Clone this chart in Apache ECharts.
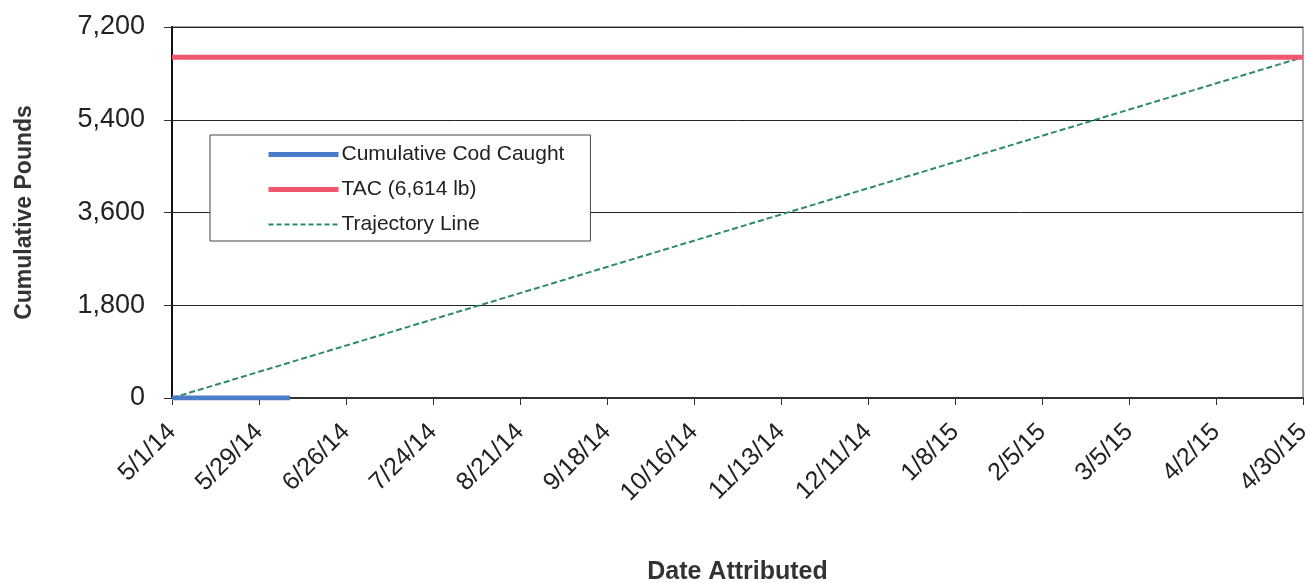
<!DOCTYPE html>
<html>
<head>
<meta charset="utf-8">
<script src="https://cdn.jsdelivr.net/npm/echarts@6/dist/echarts.min.js"></script>
<style>
html,body{margin:0;padding:0;background:#fff;}
#c{width:1312px;height:583px;}
</style>
</head>
<body>
<div id="c"></div>
<script>
// ---- data ----
const startDate = '2014-05-01';
const endDate = '2015-04-30';
const caughtDates = ['2014-05-01', '2014-05-15', '2014-05-29', '2014-06-08'];
const caughtValues = [0, 0, 0, 0];
const tacDates = ['2014-05-01', '2015-04-30'];
const tacValues = [6614, 6614];
const trajectoryDates = ['2014-05-01', '2015-04-30'];
const trajectoryValues = [0, 6614];
const yTicks = [0, 1800, 3600, 5400, 7200];
const seriesNames = ['Cumulative Cod Caught', 'TAC (6,614 lb)', 'Trajectory Line'];

const DAY = 86400000;
const t0 = Date.parse(startDate + 'T00:00:00Z');
function dayIndex(s) { return Math.round((Date.parse(s + 'T00:00:00Z') - t0) / DAY); }
function fmt(d) {
  const dt = new Date(t0 + d * DAY);
  return (dt.getUTCMonth() + 1) + '/' + dt.getUTCDate() + '/' + String(dt.getUTCFullYear()).slice(2);
}
function pairs(dates, vals) { return dates.map((d, i) => [dayIndex(d), vals[i]]); }

const colors = ['#4a7cc9', '#f0566e', '#2f8a66'];
const chart = echarts.init(document.getElementById('c'));
const font = 'Liberation Sans, Arial, sans-serif';
chart.setOption({
  animation: false,
  textStyle: { fontFamily: font },
  grid: { left: 172, right: 9, top: 27, bottom: 185, containLabel: false, outerBoundsMode: 'none',
          show: true, borderColor: '#8a8a8a', borderWidth: 1.5 },
  legend: {
    orient: 'vertical', left: 210, top: 135,
    data: [
      { name: seriesNames[0], itemStyle: { opacity: 0 }, lineStyle: { width: 5, color: colors[0] } },
      { name: seriesNames[1], itemStyle: { opacity: 0 }, lineStyle: { width: 5, color: colors[1] } },
      { name: seriesNames[2], itemStyle: { opacity: 0 }, lineStyle: { width: 2, color: colors[2], type: [5, 3] } }
    ],
    itemWidth: 70, itemHeight: 14, itemGap: 14,
    padding: [9, 26, 6, 56],
    backgroundColor: '#ffffff',
    borderColor: '#444', borderWidth: 1,
    textStyle: { fontSize: 21, color: '#222', fontFamily: font, padding: [0, 0, 0, -2] }
  },
  xAxis: {
    type: 'value', min: 0, max: dayIndex(endDate), interval: 28,
    name: 'Date Attributed', nameLocation: 'middle', nameGap: 162,
    nameTextStyle: { fontSize: 25, fontWeight: 'bold', color: '#333' },
    axisLine: { show: true, lineStyle: { color: '#333', width: 2 } },
    axisTick: { show: true, length: 7, lineStyle: { color: '#333' } },
    splitLine: { show: false },
    axisLabel: { rotate: 45, fontSize: 25, color: '#222', margin: 30, formatter: v => fmt(v) }
  },
  yAxis: {
    type: 'value', min: 0, max: 7200, interval: 1800,
    name: 'Cumulative Pounds', nameLocation: 'middle', nameGap: 136,
    nameTextStyle: { fontSize: 23, fontWeight: 'bold', color: '#333' },
    axisLine: { show: true, lineStyle: { color: '#111', width: 2 } },
    axisTick: { show: true, length: 8, lineStyle: { color: '#333' } },
    splitLine: { show: true, lineStyle: { color: '#222', width: 1 } },
    axisLabel: { fontSize: 27, color: '#222', margin: 27, formatter: v => v.toLocaleString('en-US') }
  },
  series: [
    { name: seriesNames[0], type: 'line', symbol: 'none', z: 5,
      data: pairs(caughtDates, caughtValues),
      lineStyle: { color: colors[0], width: 5 }, itemStyle: { color: colors[0] } },
    { name: seriesNames[1], type: 'line', symbol: 'none', z: 4,
      data: pairs(tacDates, tacValues),
      lineStyle: { color: colors[1], width: 5 }, itemStyle: { color: colors[1] } },
    { name: seriesNames[2], type: 'line', symbol: 'none', z: 3,
      data: pairs(trajectoryDates, trajectoryValues),
      lineStyle: { color: colors[2], width: 2, type: [6, 3] }, itemStyle: { color: colors[2] } }
  ]
});
</script>
</body>
</html>
